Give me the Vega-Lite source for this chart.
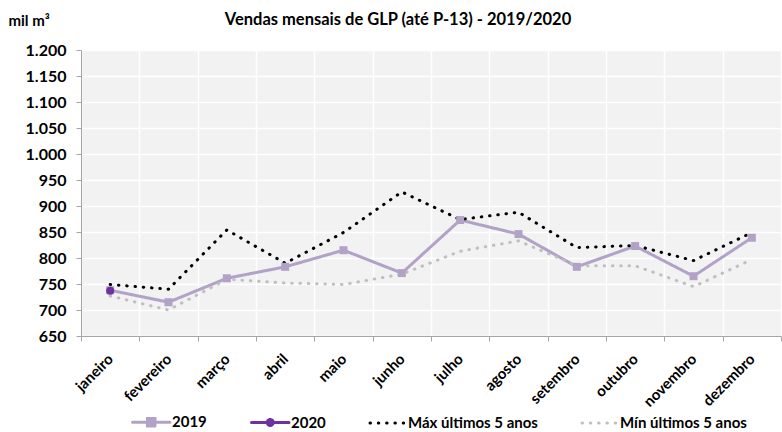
{
  "$schema": "https://vega.github.io/schema/vega-lite/v6.json",
  "autosize": {"type": "none"},
  "padding": {"left": 81, "top": 50, "right": 1, "bottom": 96},
  "width": 700,
  "height": 286,
  "background": "#ffffff",
  "title": {
    "text": "Vendas mensais de GLP (até P-13) - 2019/2020",
    "anchor": "middle",
    "dx": -33,
    "offset": -15,
    "font": "Lato",
    "fontSize": 16.5,
    "fontWeight": "bold",
    "color": "#000000"
  },
  "config": {
    "view": {"fill": "#f2f2f2", "stroke": null},
    "font": "Lato"
  },
  "data": {
    "values": [
      {"mes": "janeiro", "serie": "2019", "valor": 738},
      {"mes": "fevereiro", "serie": "2019", "valor": 715},
      {"mes": "março", "serie": "2019", "valor": 761},
      {"mes": "abril", "serie": "2019", "valor": 783},
      {"mes": "maio", "serie": "2019", "valor": 815},
      {"mes": "junho", "serie": "2019", "valor": 771},
      {"mes": "julho", "serie": "2019", "valor": 873},
      {"mes": "agosto", "serie": "2019", "valor": 846},
      {"mes": "setembro", "serie": "2019", "valor": 783},
      {"mes": "outubro", "serie": "2019", "valor": 823},
      {"mes": "novembro", "serie": "2019", "valor": 765},
      {"mes": "dezembro", "serie": "2019", "valor": 839},
      {"mes": "janeiro", "serie": "2020", "valor": 737},
      {"mes": "janeiro", "serie": "Máx últimos 5 anos", "valor": 749},
      {"mes": "fevereiro", "serie": "Máx últimos 5 anos", "valor": 740},
      {"mes": "março", "serie": "Máx últimos 5 anos", "valor": 854},
      {"mes": "abril", "serie": "Máx últimos 5 anos", "valor": 790},
      {"mes": "maio", "serie": "Máx últimos 5 anos", "valor": 849},
      {"mes": "junho", "serie": "Máx últimos 5 anos", "valor": 927},
      {"mes": "julho", "serie": "Máx últimos 5 anos", "valor": 874},
      {"mes": "agosto", "serie": "Máx últimos 5 anos", "valor": 888},
      {"mes": "setembro", "serie": "Máx últimos 5 anos", "valor": 820},
      {"mes": "outubro", "serie": "Máx últimos 5 anos", "valor": 824},
      {"mes": "novembro", "serie": "Máx últimos 5 anos", "valor": 795},
      {"mes": "dezembro", "serie": "Máx últimos 5 anos", "valor": 849},
      {"mes": "janeiro", "serie": "Mín últimos 5 anos", "valor": 727},
      {"mes": "fevereiro", "serie": "Mín últimos 5 anos", "valor": 700},
      {"mes": "março", "serie": "Mín últimos 5 anos", "valor": 759},
      {"mes": "abril", "serie": "Mín últimos 5 anos", "valor": 752},
      {"mes": "maio", "serie": "Mín últimos 5 anos", "valor": 749},
      {"mes": "junho", "serie": "Mín últimos 5 anos", "valor": 769},
      {"mes": "julho", "serie": "Mín últimos 5 anos", "valor": 813},
      {"mes": "agosto", "serie": "Mín últimos 5 anos", "valor": 833},
      {"mes": "setembro", "serie": "Mín últimos 5 anos", "valor": 785},
      {"mes": "outubro", "serie": "Mín últimos 5 anos", "valor": 785},
      {"mes": "novembro", "serie": "Mín últimos 5 anos", "valor": 745},
      {"mes": "dezembro", "serie": "Mín últimos 5 anos", "valor": 797}
    ]
  },
  "encoding": {
    "x": {
      "field": "mes",
      "type": "nominal",
      "bandPosition": 0.5,
      "sort": ["janeiro", "fevereiro", "março", "abril", "maio", "junho", "julho", "agosto", "setembro", "outubro", "novembro", "dezembro"],
      "scale": {"type": "band", "paddingInner": 0, "paddingOuter": 0},
      "axis": {
        "title": null,
        "labelAngle": -45,
        "labelAlign": "right",
        "labelBaseline": "middle",
        "labelFont": "Lato",
        "labelFontSize": 15,
        "labelFontWeight": "bold",
        "labelColor": "#000000",
        "labelPadding": 15,
        "tickBand": "extent",
        "ticks": true,
        "tickSize": 5,
        "tickColor": "#a6a6a6",
        "domainColor": "#a6a6a6",
        "domainWidth": 1,
        "grid": true,
        "gridColor": "#ffffff",
        "gridWidth": 1.5
      }
    },
    "y": {
      "field": "valor",
      "type": "quantitative",
      "scale": {"domain": [650, 1200], "nice": false, "zero": false},
      "axis": {
        "title": "mil m³",
        "titleAngle": 0,
        "titleAlign": "left",
        "titleBaseline": "middle",
        "titleX": -73,
        "titleY": -30,
        "titleFont": "Lato",
        "titleFontSize": 15,
        "titleFontWeight": "bold",
        "titleColor": "#000000",
        "values": [650, 700, 750, 800, 850, 900, 950, 1000, 1050, 1100, 1150, 1200],
        "labelExpr": "replace(format(datum.value, ','), ',', '.')",
        "labelFont": "Lato",
        "labelFontSize": 16,
        "labelFontWeight": "bold",
        "labelColor": "#000000",
        "labelPadding": 10,
        "tickColor": "#a6a6a6",
        "tickSize": 5,
        "domainColor": "#a6a6a6",
        "grid": true,
        "gridColor": "#ffffff",
        "gridWidth": 1.5
      }
    },
    "color": {
      "field": "serie",
      "type": "nominal",
      "scale": {
        "domain": ["2019", "2020", "Máx últimos 5 anos", "Mín últimos 5 anos"],
        "range": ["#b3a2c7", "#7030a0", "#000000", "#bfbfbf"]
      },
      "legend": {
        "title": null,
        "orient": "none",
        "direction": "horizontal",
        "legendX": 50,
        "legendY": 363,
        "columns": 4,
        "columnPadding": 38,
        "symbolSize": 225,
        "labelOffset": 23,
        "labelFont": "Lato",
        "labelFontSize": 15,
        "labelFontWeight": "bold",
        "labelColor": "#000000",
        "encode": {
          "symbols": {
            "update": {
              "shape": {"signal": "datum.value === '2019' ? 'M-1,0H4M1,-0.5H2V0.5H1Z' : (datum.value === '2020' ? 'M-1,0H4M1.9,0A0.4,0.4 0 1,1 1.1,0A0.4,0.4 0 1,1 1.9,0Z' : 'M-0.8,0H4')"},
              "fill": {"signal": "datum.value === '2019' ? '#b3a2c7' : (datum.value === '2020' ? '#7030a0' : 'transparent')"},
              "stroke": {"signal": "scale('color', datum.value)"},
              "strokeWidth": {"signal": "datum.value === '2019' || datum.value === '2020' ? 3 : 3.5"},
              "strokeDash": {"signal": "datum.value === '2019' || datum.value === '2020' ? [] : [0.5, 7.2]"},
              "strokeCap": {"value": "round"},
              "opacity": {"value": 1}
            }
          }
        }
      }
    }
  },
  "layer": [
    {
      "mark": {"type": "line", "strokeCap": "round", "strokeJoin": "round"},
      "encoding": {
        "strokeDash": {
          "field": "serie",
          "type": "nominal",
          "scale": {
            "domain": ["2019", "2020", "Máx últimos 5 anos", "Mín últimos 5 anos"],
            "range": [[1, 0], [1, 0], [0.5, 7.8], [0.5, 7.8]]
          },
          "legend": null
        },
        "strokeWidth": {
          "field": "serie",
          "type": "nominal",
          "scale": {
            "domain": ["2019", "2020", "Máx últimos 5 anos", "Mín últimos 5 anos"],
            "range": [3, 3, 4, 4]
          },
          "legend": null
        }
      }
    },
    {
      "transform": [{"filter": "datum.serie === '2019' || datum.serie === '2020'"}],
      "mark": {"type": "point", "filled": true, "opacity": 1},
      "encoding": {
        "shape": {
          "field": "serie",
          "type": "nominal",
          "scale": {"domain": ["2019", "2020"], "range": ["square", "circle"]},
          "legend": null
        },
        "size": {"value": 64}
      }
    }
  ]
}
